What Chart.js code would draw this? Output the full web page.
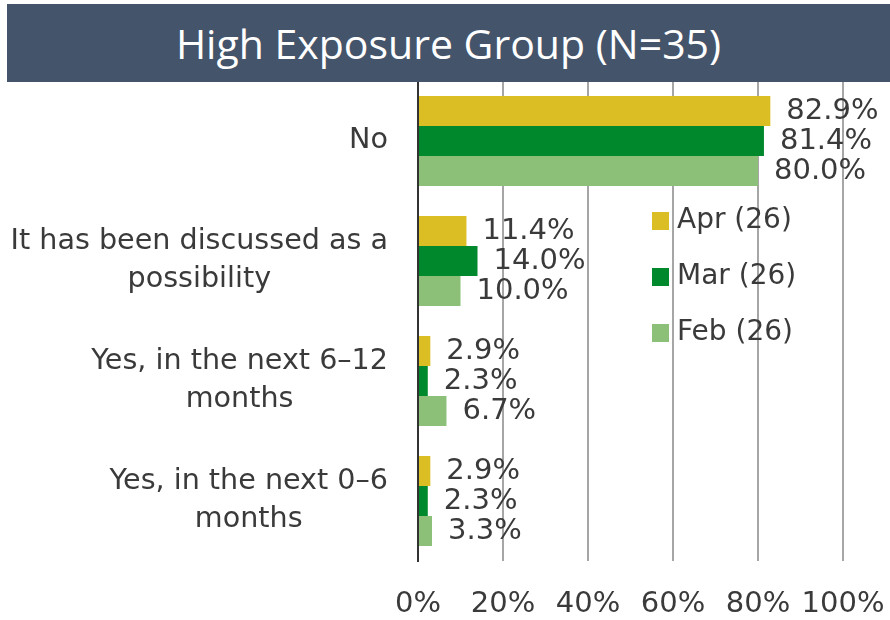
<!DOCTYPE html>
<html>
<head>
<meta charset="utf-8">
<script src="https://cdn.jsdelivr.net/npm/chart.js@4.4.0/dist/chart.umd.min.js"></script>
<style>
    body { margin: 0; background: #ffffff; }
    #wrap { position: relative; width: 890px; height: 620px; }
    #banner {
        position: absolute; left: 7px; top: 4px; width: 883px; height: 78px;
        background: #44546a; color: #ffffff; z-index: 2;
        font-family: 'Open Sans', sans-serif; font-size: 41px;
        display: flex; align-items: center; justify-content: center;
    }
    #graph { position: absolute; left: 0; top: 0; }
</style>
</head>
<body>
<div id="wrap">
    <div id="banner">High Exposure Group (N=35)</div>
    <canvas id="graph" width="890" height="620"></canvas>
</div>
<script>
const categories = [
    ['No'],
    ['It has been discussed as a', 'possibility'],
    ['Yes, in the next 6–12', 'months'],
    ['Yes, in the next 0–6', 'months']
];
const series_labels = ['Apr (26)', 'Mar (26)', 'Feb (26)'];
const apr_values = [82.9, 11.4, 2.9, 2.9];
const mar_values = [81.4, 14.0, 2.3, 2.3];
const feb_values = [80.0, 10.0, 6.7, 3.3];
const x_ticks = [0, 20, 40, 60, 80, 100];

const series_colors = ['#dbbd24', '#00882d', '#8cbf78'];
const text_color = '#3a3a3a';
const font_family = "'DejaVu Sans', sans-serif";

// value labels, category labels and legend drawn by hand
const text_plugin = {
    id: 'text_plugin',
    afterDatasetsDraw(chart) {
        const ctx = chart.ctx;
        ctx.save();
        ctx.fillStyle = text_color;
        ctx.textBaseline = 'middle';

        ctx.font = '29px ' + font_family;
        ctx.textAlign = 'left';
        chart.data.datasets.forEach((ds, i) => {
            chart.getDatasetMeta(i).data.forEach((bar, j) => {
                ctx.fillText(ds.data[j].toFixed(1) + '%', bar.x + 16, bar.y);
            });
        });

        ctx.font = '28.6px ' + font_family;
        ctx.textAlign = 'center';
        const y_scale = chart.scales.y;
        chart.data.labels.forEach((lines, j) => {
            const cy = y_scale.getPixelForValue(j);
            const block_w = Math.max(...lines.map(l => ctx.measureText(l).width));
            const cx = y_scale.right - 30 - block_w / 2;
            lines.forEach((l, k) => {
                ctx.fillText(l, cx, cy + (k - (lines.length - 1) / 2) * 38);
            });
        });

        ctx.font = '28px ' + font_family;
        ctx.textAlign = 'left';
        chart.data.datasets.forEach((ds, i) => {
            const cy = 221 + i * 56;
            ctx.fillStyle = ds.backgroundColor;
            ctx.fillRect(652, cy - 9, 17, 18);
            ctx.fillStyle = text_color;
            ctx.fillText(ds.label, 677, cy);
        });
        ctx.restore();
    }
};

const values = [apr_values, mar_values, feb_values];
const data = {
    labels: categories,
    datasets: series_labels.map((label, i) => ({
        label: label,
        data: values[i],
        backgroundColor: series_colors[i],
        borderWidth: 0,
        categoryPercentage: 0.75,
        barPercentage: 1.0
    }))
};

const config = {
    type: 'bar',
    data,
    options: {
        indexAxis: 'y',
        responsive: false,
        animation: false,
        layout: { padding: { top: 81, right: 47, left: 0, bottom: 0 } },
        plugins: {
            legend: { display: false },
            tooltip: { enabled: false },
            title: { display: false }
        },
        scales: {
            x: {
                min: 0,
                max: 100,
                afterBuildTicks: (scale) => {
                    scale.ticks = x_ticks.map(v => ({ value: v }));
                },
                afterFit: (scale) => {
                    scale.height = 59;
                    scale.paddingLeft = 0;
                    scale.paddingRight = 0;
                },
                ticks: {
                    padding: 26,
                    maxRotation: 0,
                    minRotation: 0,
                    autoSkip: false,
                    color: text_color,
                    font: { family: font_family, size: 29 },
                    callback: (v) => v + '%'
                },
                grid: { color: '#a6a6a6', lineWidth: 2, drawTicks: false },
                border: { display: false }
            },
            y: {
                afterFit: (scale) => { scale.width = 418; },
                ticks: { display: false },
                grid: { display: false, drawTicks: false },
                border: { display: true, color: '#333333', width: 2 }
            }
        }
    },
    plugins: [text_plugin]
};

new Chart(document.getElementById('graph'), config);
</script>
</body>
</html>
